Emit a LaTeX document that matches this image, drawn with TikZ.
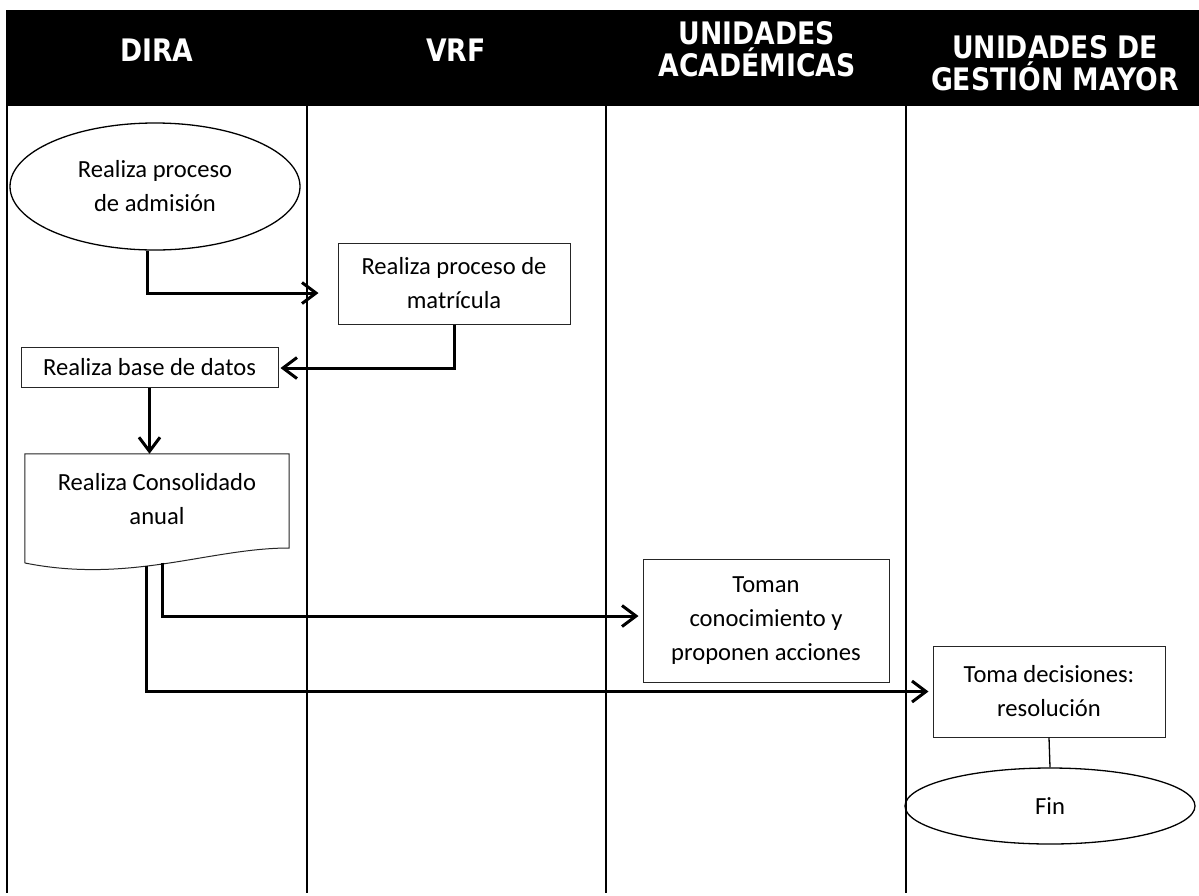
\documentclass[tikz,border=0pt]{standalone}
\usepackage{fontspec}
\setmainfont{Carlito}
\newfontfamily\hdrfont[FakeStretch=0.86]{DejaVu Sans}
\usetikzlibrary{arrows.meta,shapes.geometric,calc}
\newcommand\bodyfnt{\fontsize{24.6}{34}\selectfont}
\begin{document}
\begin{tikzpicture}[x=1pt,y=-1pt,
  lane/.style={line width=1.6pt},
  box/.style={draw=black!85,line width=1pt,rectangle,inner sep=0pt,align=center,font=\bodyfnt},
  oval/.style={draw=black,line width=1.3pt,ellipse,inner sep=0pt,align=center,font=\bodyfnt},
  hdr/.style={text=white,align=center,font=\hdrfont\bfseries\fontsize{31}{32}\selectfont},
  conn/.style={line width=3pt},
  arr/.style={conn,-{Straight Barb[length=14pt,width=21pt]}}
]
\useasboundingbox (0,0) rectangle (1199,895);
\fill[white] (0,0) rectangle (1199,895);
% header band
\fill[black] (6,10) rectangle (1199,106);
% lanes
\draw[lane] (7,106) -- (7,893);
\draw[lane] (307,106) -- (307,893);
\draw[lane] (606,106) -- (606,893);
\draw[lane] (906,106) -- (906,893);
% header titles
\node[hdr] (hDira) at (157,50) {DIRA};
\node[hdr] (hVrf) at (456,50) {VRF};
\node[hdr] (hUa) at (757,49) {UNIDADES\\ACADÉMICAS};
\node[hdr] (hUgm) at (1055,63) {UNIDADES DE\\GESTIÓN MAYOR};
% nodes
\node[oval,minimum width=290pt,minimum height=127pt] (e1) at (155,186.5) {Realiza proceso\\de admisión};
\node[box,minimum width=232pt,minimum height=81pt] (matric) at (454,283.5) {Realiza proceso de\\matrícula};
\node[box,minimum width=257pt,minimum height=40pt] (base) at (149.5,367) {Realiza base de datos};
\node[inner sep=0pt,minimum width=264pt,minimum height=90pt,align=center,font=\bodyfnt] (doc) at (157,499) {Realiza Consolidado\\anual};
\draw[draw=black!85,line width=1pt] (doc.north west) -- (doc.north east) -- (289,548)
   .. controls (210,548) and (130,584) .. (25,563) -- cycle;
\coordinate (docA) at (146,566);
\coordinate (docB) at (162,562.5);
\node[box,minimum width=246pt,minimum height=123pt] (toman) at (766,620.5) {Toman\\conocimiento y\\proponen acciones};
\node[box,minimum width=232pt,minimum height=91pt] (toma) at (1049,691.5) {Toma decisiones:\\resolución};
\node[oval,minimum width=290pt,minimum height=76pt] (fin) at (1050,806) {Fin};
% connectors
\draw[arr] (e1.263) |- ($(matric.west)+(-19,9.5)$);
\draw[arr] (matric.south) |- ($(base.east)+(2,1)$);
\draw[arr] (base.south) -- (base.south |- doc.north);
\draw[arr] (docB) |- ($(toman.west)+(-4,-4.5)$);
\draw[arr] (docA) |- ($(toma.west)+(-4,0)$);
\draw[line width=1.3pt] (toma.south) -- (fin.north);
\end{tikzpicture}
\end{document}
